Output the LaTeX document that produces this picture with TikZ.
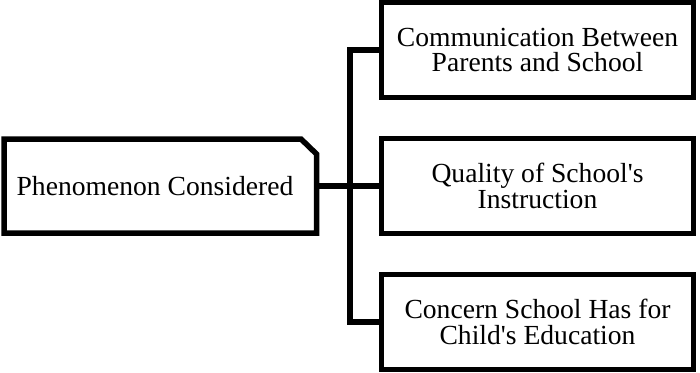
\documentclass[tikz,border=0pt]{standalone}
\usepackage{fontspec}
\setmainfont{Liberation Serif}
\begin{document}
\begin{tikzpicture}[x=1pt,y=-1pt,
  boxline/.style={line width=5.5pt,line join=miter,draw=black},
  txt/.style={font=\fontsize{27.6}{25.4}\selectfont,align=center,inner sep=0pt,outer sep=0pt},
  rbox/.style={txt,draw=black,line width=5.5pt,minimum width=312pt,minimum height=95pt,fill=white},
  conn/.style={line width=5.5pt,line join=miter}]
\useasboundingbox (0,0) rectangle (700,372);
\fill[white] (0,0) rectangle (700,372);
% left chamfered box
\node[txt,minimum width=312.5pt,minimum height=94pt] (phen) at (160.25,186) {};
\coordinate (hub) at (350,186);
\node[rbox] (b1) at (537.5,50) {Communication Between\\Parents and School};
\node[rbox] (b2) at (537.5,186) {Quality of School\textquotesingle s\\Instruction};
\node[rbox] (b3) at (537.5,321.75) {Concern School Has for\\Child\textquotesingle s Education};
\draw[conn] (b1.west) -| (hub) |- (b3.west);
\draw[conn] (phen.east) -- (b2.west);
\draw[boxline,fill=white] (phen.south west) -- (phen.north west) -- ([xshift=-15.5pt]phen.north east) -- ([yshift=-15pt]phen.north east) -- (phen.south east) -- cycle;
\node[txt] (phentext) at (155,186) {Phenomenon Considered};
\end{tikzpicture}
\end{document}
